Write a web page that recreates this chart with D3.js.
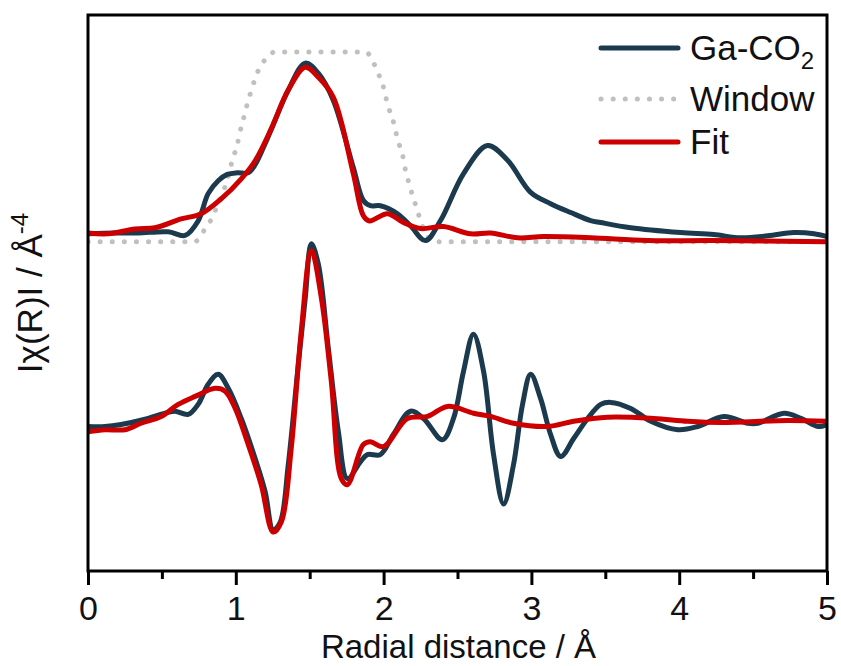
<!DOCTYPE html>
<html>
<head>
<meta charset="utf-8">
<script src="https://cdn.jsdelivr.net/npm/d3@7/dist/d3.min.js"></script>
<style>
  html, body { margin: 0; padding: 0; background: #fff; }
  svg text { font-family: "Liberation Sans", Arial, sans-serif; fill: #111; }
</style>
</head>
<body>
<svg id="chart" width="841" height="666"></svg>
<script>
// |chi(R)| magnitude, measured data (R in Å, arbitrary units)
const magR    = [0, 0.183, 0.339, 0.542, 0.657, 0.745, 0.813, 0.881, 0.942, 1.010, 1.084, 1.131, 1.199, 1.240, 1.355, 1.470, 1.558, 1.660, 1.795, 1.863, 1.911, 1.978, 2.094, 2.182, 2.283, 2.385, 2.541, 2.703, 2.839, 2.995, 3.130, 3.266, 3.401, 3.469, 3.672, 4.011, 4.234, 4.417, 4.600, 4.776, 4.912, 5.0];
const magData = [0.20, 0.22, 0.22, 0.25, 0.16, 0.52, 1.20, 1.52, 1.68, 1.72, 1.72, 1.92, 2.45, 2.80, 3.78, 4.45, 4.20, 3.52, 1.85, 1.03, 0.90, 0.90, 0.70, 0.40, 0.03, 0.53, 1.70, 2.40, 2.03, 1.23, 0.95, 0.73, 0.53, 0.48, 0.35, 0.23, 0.18, 0.10, 0.15, 0.23, 0.20, 0.13];

// |chi(R)| magnitude, fit
const magFitR = [0, 0.135, 0.318, 0.454, 0.630, 0.766, 0.901, 1.037, 1.131, 1.240, 1.355, 1.470, 1.558, 1.660, 1.795, 1.863, 1.904, 2.026, 2.134, 2.249, 2.405, 2.588, 2.724, 2.907, 3.083, 3.401, 3.787, 4.234, 5.0];
const magFit  = [0.22, 0.20, 0.32, 0.35, 0.57, 0.70, 1.07, 1.57, 2.02, 2.82, 3.78, 4.35, 4.10, 3.60, 1.70, 0.65, 0.52, 0.70, 0.48, 0.33, 0.38, 0.20, 0.22, 0.10, 0.13, 0.10, 0.03, 0.03, 0.00];

// Fourier-transform window
const winR   = [0, 0.720, 0.738, 0.793, 0.847, 0.874, 0.908, 0.942, 0.962, 0.982, 1.009, 1.023, 1.043, 1.064, 1.084, 1.111, 1.131, 1.165, 1.213, 1.267, 1.877, 1.924, 1.958, 1.992, 2.012, 2.033, 2.060, 2.080, 2.100, 2.127, 2.141, 2.161, 2.182, 2.202, 2.229, 2.249, 2.283, 2.331, 2.385, 5.0];
const winVal = [0, 0, 0.03, 0.33, 0.65, 0.90, 1.20, 1.53, 1.83, 2.10, 2.40, 2.65, 2.95, 3.23, 3.53, 3.83, 4.08, 4.35, 4.60, 4.73, 4.73, 4.53, 4.23, 3.95, 3.65, 3.35, 3.08, 2.78, 2.48, 2.20, 1.90, 1.60, 1.33, 1.08, 0.78, 0.53, 0.23, 0.03, 0, 0];

// Im[chi(R)], measured data
const imR    = [0, 0.115, 0.224, 0.386, 0.522, 0.589, 0.678, 0.745, 0.813, 0.881, 0.949, 1.037, 1.131, 1.199, 1.253, 1.301, 1.355, 1.423, 1.470, 1.511, 1.558, 1.626, 1.694, 1.755, 1.843, 1.890, 1.978, 2.066, 2.182, 2.270, 2.398, 2.473, 2.541, 2.608, 2.676, 2.744, 2.812, 2.879, 2.940, 2.995, 3.062, 3.130, 3.198, 3.286, 3.381, 3.469, 3.537, 3.672, 3.808, 3.991, 4.126, 4.302, 4.465, 4.533, 4.709, 4.824, 4.939, 5.0];
const imData = [0, 0, 0.05, 0.18, 0.33, 0.38, 0.30, 0.55, 1.05, 1.30, 0.95, 0.20, -0.80, -1.63, -2.58, -2.38, -0.95, 1.55, 3.20, 4.55, 4.05, 1.95, -0.13, -1.30, -0.88, -0.70, -0.70, -0.20, 0.38, 0.20, -0.33, 0.20, 1.38, 2.30, 1.38, -0.70, -1.93, -0.95, 0.55, 1.30, 0.70, -0.20, -0.75, -0.30, 0.20, 0.55, 0.60, 0.45, 0.13, -0.08, 0, 0.25, 0.08, 0.08, 0.33, 0.20, 0, 0.05];

// Im[chi(R)], fit
const imFitR = [0, 0.115, 0.251, 0.359, 0.495, 0.610, 0.725, 0.860, 0.928, 0.996, 1.084, 1.172, 1.253, 1.308, 1.375, 1.443, 1.511, 1.579, 1.646, 1.714, 1.755, 1.863, 1.911, 1.999, 2.161, 2.297, 2.432, 2.608, 2.724, 2.879, 3.110, 3.286, 3.516, 3.828, 4.058, 4.282, 4.736, 5.0];
const imFit  = [-0.13, -0.08, -0.08, 0.08, 0.25, 0.55, 0.75, 0.95, 0.88, 0.45, -0.45, -1.45, -2.63, -2.38, -0.55, 2.38, 4.38, 3.20, 1.13, -1.30, -1.45, -0.45, -0.38, -0.50, 0.20, 0.25, 0.50, 0.33, 0.25, 0.08, 0, 0.13, 0.23, 0.20, 0.13, 0.10, 0.15, 0.13];

// vertical offset of the imaginary-part pair below the magnitude pair
const imOffset = 4.6;

const xTicks = [0, 1, 2, 3, 4, 5];
const xMinorTicks = [0.5, 1.5, 2.5, 3.5, 4.5];
const legendLabels = ["Ga-CO", "Window", "Fit"];

const C_DATA = "#1c3a4e", C_FIT = "#cc0000", C_WIN = "#c0c0c0";
const FONT = 35, TICK_FONT = 34, XTITLE_FONT = 33;

const svg = d3.select("#chart");
const m = { left: 88, right: 827, top: 15, bottom: 571 };

const x = d3.scaleLinear().domain([0, 5]).range([m.left, m.right]);
const y = d3.scaleLinear().domain([-8.2, 5.65]).range([m.bottom, m.top]);

svg.append("defs").append("clipPath").attr("id", "plotclip")
  .append("rect").attr("x", m.left).attr("y", m.top)
  .attr("width", m.right - m.left).attr("height", m.bottom - m.top);

const line = d3.line().curve(d3.curveCatmullRom.alpha(0.5));
const pts = (xs, ys, off = 0) => xs.map((r, i) => [x(r), y(ys[i] - off)]);

const g = svg.append("g").attr("clip-path", "url(#plotclip)");

// window (dotted)
g.append("path").attr("d", d3.line().curve(d3.curveMonotoneX)(pts(winR, winVal)))
  .attr("fill", "none").attr("stroke", C_WIN).attr("stroke-width", 5)
  .attr("stroke-linecap", "round").attr("stroke-dasharray", "0.1 12");

const drawLine = (xs, ys, off, color) =>
  g.append("path").attr("d", line(pts(xs, ys, off)))
    .attr("fill", "none").attr("stroke", color).attr("stroke-width", 5)
    .attr("stroke-linejoin", "round").attr("stroke-linecap", "round");

drawLine(magR, magData, 0, C_DATA);
drawLine(magFitR, magFit, 0, C_FIT);
drawLine(imR, imData, imOffset, C_DATA);
drawLine(imFitR, imFit, imOffset, C_FIT);

// frame
svg.append("rect").attr("x", m.left).attr("y", m.top)
  .attr("width", m.right - m.left).attr("height", m.bottom - m.top)
  .attr("fill", "none").attr("stroke", "#000").attr("stroke-width", 3);

// bottom axis
const xAxis = svg.append("g").attr("transform", `translate(0,${m.bottom})`)
  .call(d3.axisBottom(x).tickValues(xTicks).tickSize(14).tickPadding(11)
    .tickFormat(d3.format("d")));
xAxis.select(".domain").remove();
xAxis.selectAll(".tick line").attr("stroke", "#000").attr("stroke-width", 3);
xAxis.selectAll(".tick text").attr("font-size", TICK_FONT)
  .attr("font-family", "Liberation Sans, Arial, sans-serif").attr("fill", "#111");

const xMinor = svg.append("g").attr("transform", `translate(0,${m.bottom})`)
  .call(d3.axisBottom(x).tickValues(xMinorTicks).tickSize(8).tickFormat(""));
xMinor.select(".domain").remove();
xMinor.selectAll(".tick line").attr("stroke", "#000").attr("stroke-width", 3);

// axis titles
svg.append("text").attr("x", (m.left + m.right) / 2 + 1).attr("y", 658)
  .attr("text-anchor", "middle").attr("font-size", XTITLE_FONT)
  .text("Radial distance / Å");

const yt = svg.append("text")
  .attr("transform", `translate(42,${(m.top + m.bottom) / 2}) rotate(-90)`)
  .attr("text-anchor", "middle").attr("font-size", FONT);
yt.append("tspan").text("Iχ(R)I / Å");
yt.append("tspan").attr("font-size", 24).attr("dy", -14).text("-4");

// legend
const lg = svg.append("g");
const rows = [
  { y: 48, color: C_DATA, dash: null },
  { y: 99, color: C_WIN, dash: "0.1 12" },
  { y: 142, color: C_FIT, dash: null }
];
rows.forEach((r, i) => {
  const ln = lg.append("line").attr("x1", 601).attr("x2", 678)
    .attr("y1", r.y).attr("y2", r.y).attr("stroke", r.color)
    .attr("stroke-linecap", "round").attr("stroke-width", 5);
  if (r.dash) ln.attr("stroke-dasharray", r.dash);
  const t = lg.append("text").attr("x", 690).attr("y", r.y + 12)
    .attr("font-size", FONT).text(legendLabels[i]);
  if (i === 0) t.append("tspan").attr("font-size", 24).attr("dy", 9).text("2");
});
</script>
</body>
</html>
